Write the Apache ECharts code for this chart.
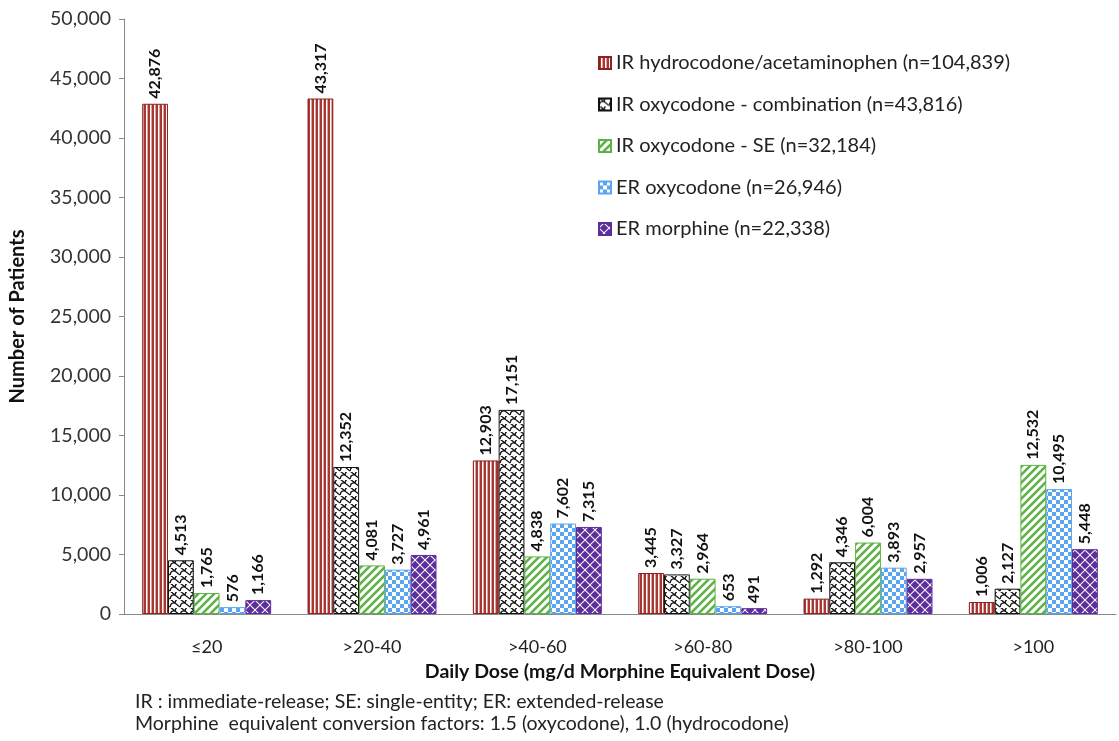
<!DOCTYPE html>
<html>
<head>
<meta charset="utf-8">
<script src="https://cdn.jsdelivr.net/npm/echarts@6/dist/echarts.min.js"></script>
<style>html,body{margin:0;padding:0;background:#fff;}#c{width:1119px;height:741px;}</style>
</head>
<body>
<div id="c"></div>
<script>
const categories = ['≤20', '>20-40', '>40-60', '>60-80', '>80-100', '>100'];
const seriesNames = [
  'IR hydrocodone/acetaminophen (n=104,839)',
  'IR oxycodone - combination (n=43,816)',
  'IR oxycodone - SE (n=32,184)',
  'ER oxycodone (n=26,946)',
  'ER morphine (n=22,338)'
];
const hydrocodone = [42876, 43317, 12903, 3445, 1292, 1006];
const oxyCombination = [4513, 12352, 17151, 3327, 4346, 2127];
const oxySE = [1765, 4081, 4838, 2964, 6004, 12532];
const erOxycodone = [576, 3727, 7602, 653, 3893, 10495];
const erMorphine = [1166, 4961, 7315, 491, 2957, 5448];
const yTicks = [0, 5000, 10000, 15000, 20000, 25000, 30000, 35000, 40000, 45000, 50000];
const footnotes = [
  'IR : immediate-release; SE: single-entity; ER: extended-release',
  'Morphine  equivalent conversion factors: 1.5 (oxycodone), 1.0 (hydrocodone)'
];

function mk(w, h, draw) {
  const c = document.createElement('canvas');
  c.width = w; c.height = h;
  const g = c.getContext('2d');
  g.fillStyle = '#fff'; g.fillRect(0, 0, w, h);
  draw(g);
  return { image: c, repeat: 'repeat' };
}
const patRed = mk(4, 4, g => { g.fillStyle = '#a63733'; g.fillRect(0, 0, 2, 4); g.fillStyle = '#d9a3a1'; g.fillRect(3, 0, 1, 4); });
const patBlack = mk(10, 8, g => {
  g.strokeStyle = '#111'; g.lineWidth = 1.3;
  g.beginPath();
  g.moveTo(0, 7); g.quadraticCurveTo(1, 2, 5, 3); g.lineTo(10, 7);
  g.moveTo(5, 3); g.quadraticCurveTo(6, -2, 10, -1);
  g.moveTo(-5, 3); g.quadraticCurveTo(-4, -2, 0, -1);
  g.moveTo(0, -1); g.lineTo(5, 3);
  g.stroke();
});
const patGreen = mk(8, 8, g => {
  g.strokeStyle = '#5db246'; g.lineWidth = 2.6;
  g.beginPath();
  g.moveTo(-2, 10); g.lineTo(10, -2);
  g.moveTo(-6, 6); g.lineTo(6, -6);
  g.moveTo(2, 14); g.lineTo(14, 2);
  g.stroke();
});
const patBlue = mk(8, 8, g => {
  g.fillStyle = '#5aa5ee'; g.fillRect(0, 0, 8, 8);
  g.fillStyle = '#ffffff'; g.fillRect(0, 0, 4, 4); g.fillRect(4, 4, 4, 4);
});
const patPurple = mk(10, 10, g => {
  g.fillStyle = '#5c2d9c';
  const s = 4.3;
  const d = (x, y) => { g.beginPath(); g.moveTo(x, y - s); g.lineTo(x + s, y); g.lineTo(x, y + s); g.lineTo(x - s, y); g.closePath(); g.fill(); };
  d(0, 0); d(10, 0); d(0, 10); d(10, 10); d(5, 5);
});

const fills = [patRed, patBlack, patGreen, patBlue, patPurple];
const borders = ['#8e1f1f', '#111111', '#5db246', '#5aa5ee', '#5c2d9c'];
const values = [hydrocodone, oxyCombination, oxySE, erOxycodone, erMorphine];
const FONT = 'Lato, "Open Sans", sans-serif';

const fmt = v => v.toLocaleString('en-US');

const chart = echarts.init(document.getElementById('c'));
chart.setOption({
  animation: false,
  backgroundColor: '#fff',
  textStyle: { fontFamily: FONT },
  grid: { left: 114, right: 3, top: 19, bottom: 127 },
  legend: {
    orient: 'vertical', left: 593, top: 48, itemGap: 21.5,
    itemWidth: 12, itemHeight: 12, icon: 'rect',
    textStyle: { fontSize: 20, lineHeight: 20, color: '#222', fontFamily: FONT },
    data: seriesNames
  },
  xAxis: {
    type: 'category', data: categories,
    axisLine: { lineStyle: { color: '#888' } },
    axisTick: { length: 8, lineStyle: { color: '#888' } },
    axisLabel: { fontSize: 18, color: '#222', margin: 24, fontFamily: FONT },
    name: 'Daily Dose (mg/d Morphine Equivalent Dose)',
    nameLocation: 'middle', nameGap: 48,
    nameTextStyle: { fontSize: 19.5, fontWeight: 'bold', color: '#111', fontFamily: FONT }
  },
  yAxis: {
    type: 'value', min: yTicks[0], max: yTicks[yTicks.length - 1], interval: 5000,
    axisLine: { show: true, lineStyle: { color: '#888' } },
    axisTick: { show: true, length: 5, lineStyle: { color: '#888' } },
    splitLine: { show: false },
    axisLabel: { fontSize: 19.5, color: '#333', margin: 13, fontFamily: FONT, formatter: v => fmt(v) },
    name: 'Number of Patients', nameLocation: 'middle', nameGap: 96,
    nameTextStyle: { fontSize: 20, fontWeight: 'bold', color: '#111', fontFamily: FONT }
  },
  series: values.map((arr, i) => ({
    name: seriesNames[i], type: 'bar', data: arr,
    barGap: '0%', barCategoryGap: '22%',
    itemStyle: { color: fills[i], borderColor: borders[i], borderWidth: 1 },
    label: {
      show: true, position: 'top', rotate: 90, align: 'left', verticalAlign: 'middle',
      distance: 5, fontSize: 16, fontWeight: 'bold', color: '#111', fontFamily: FONT,
      formatter: p => fmt(p.value)
    }
  })),
  graphic: footnotes.map((t, i) => ({
    type: 'text', left: 135, top: 692 + i * 22,
    style: { text: t, fontSize: 19.5, fill: '#222', fontFamily: FONT }
  }))
});
</script>
</body>
</html>
